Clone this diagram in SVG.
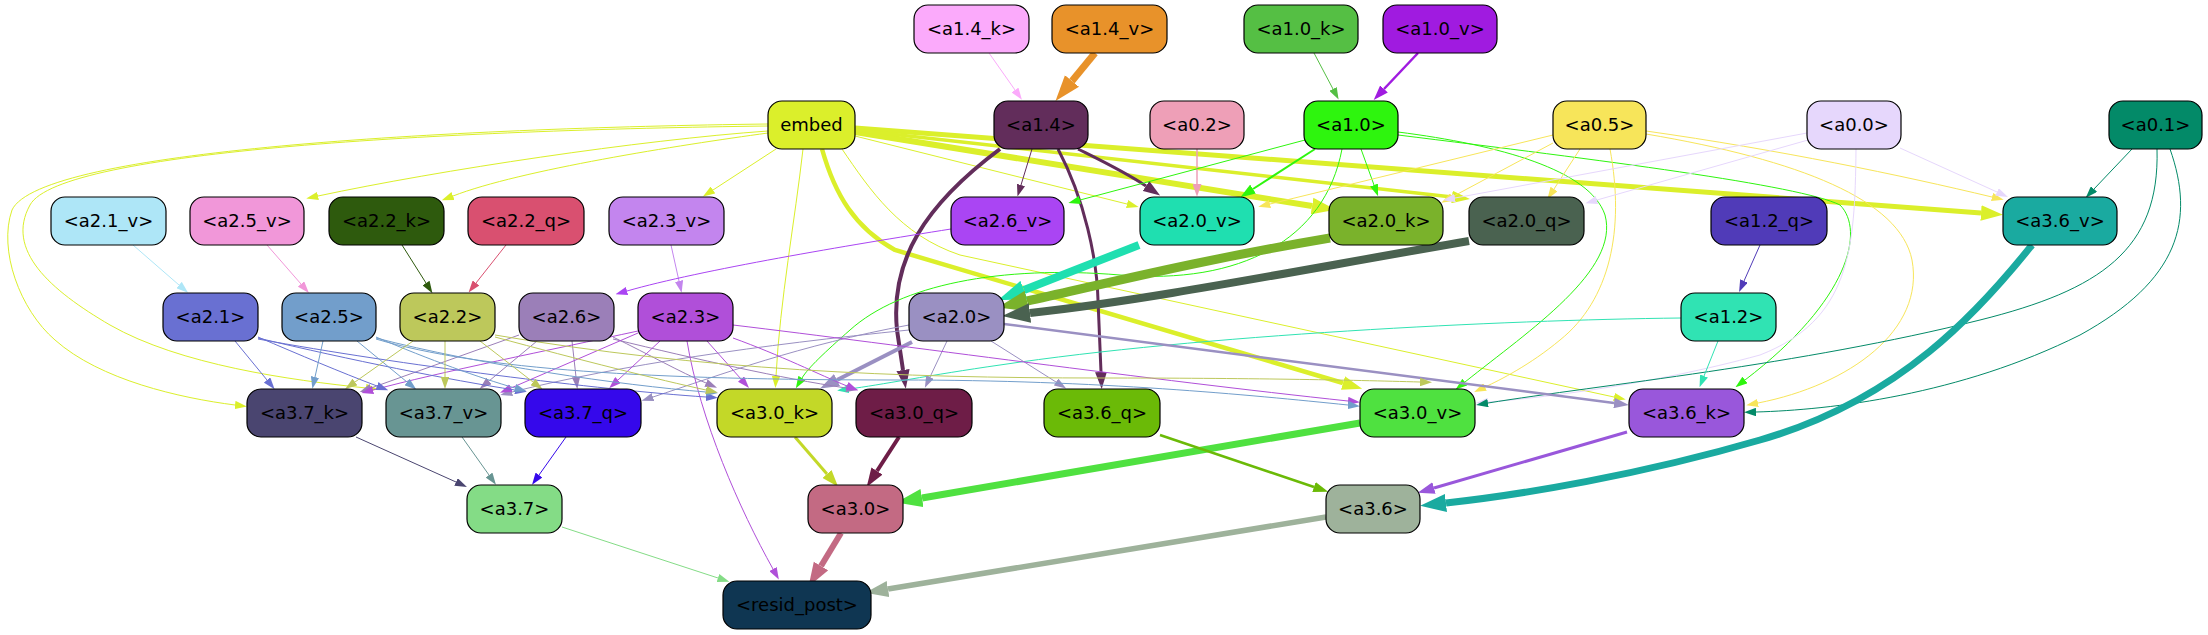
<svg xmlns="http://www.w3.org/2000/svg" width="2208" height="635" viewBox="0 0 2208 635">
<style>
.n rect{stroke:#000;stroke-width:1.2}
.n text{font-family:"DejaVu Sans",sans-serif;font-size:18px;text-anchor:middle;fill:#000}
#edges path{fill:none}
</style>
<defs>
<marker id="m_pk" viewBox="0 0 10 7" refX="0" refY="3.5" markerUnits="userSpaceOnUse" markerWidth="12" markerHeight="8.4" orient="auto"><path d="M0,0L10,3.5L0,7z" fill="#fbaafb"/></marker>
<marker id="m_or" viewBox="0 0 10 7" refX="0" refY="3.5" markerUnits="userSpaceOnUse" markerWidth="26" markerHeight="19" orient="auto"><path d="M0,0L10,3.5L0,7z" fill="#e8922a"/></marker>
<marker id="m_g1" viewBox="0 0 10 7" refX="0" refY="3.5" markerUnits="userSpaceOnUse" markerWidth="12" markerHeight="8.4" orient="auto"><path d="M0,0L10,3.5L0,7z" fill="#55bf44"/></marker>
<marker id="m_pu" viewBox="0 0 10 7" refX="0" refY="3.5" markerUnits="userSpaceOnUse" markerWidth="15" markerHeight="10.5" orient="auto"><path d="M0,0L10,3.5L0,7z" fill="#a01be0"/></marker>
<marker id="m_em" viewBox="0 0 10 7" refX="0" refY="3.5" markerUnits="userSpaceOnUse" markerWidth="12" markerHeight="8.4" orient="auto"><path d="M0,0L10,3.5L0,7z" fill="#dbef2b"/></marker>
<marker id="m_em18" viewBox="0 0 10 7" refX="0" refY="3.5" markerUnits="userSpaceOnUse" markerWidth="18" markerHeight="13" orient="auto"><path d="M0,0L10,3.5L0,7z" fill="#dbef2b"/></marker>
<marker id="m_em20" viewBox="0 0 10 7" refX="0" refY="3.5" markerUnits="userSpaceOnUse" markerWidth="20" markerHeight="14.5" orient="auto"><path d="M0,0L10,3.5L0,7z" fill="#dbef2b"/></marker>
<marker id="m_em22" viewBox="0 0 10 7" refX="0" refY="3.5" markerUnits="userSpaceOnUse" markerWidth="22" markerHeight="16" orient="auto"><path d="M0,0L10,3.5L0,7z" fill="#dbef2b"/></marker>
<marker id="m_em24" viewBox="0 0 10 7" refX="0" refY="3.5" markerUnits="userSpaceOnUse" markerWidth="24" markerHeight="17.5" orient="auto"><path d="M0,0L10,3.5L0,7z" fill="#dbef2b"/></marker>
<marker id="m_14" viewBox="0 0 10 7" refX="0" refY="3.5" markerUnits="userSpaceOnUse" markerWidth="12" markerHeight="8.4" orient="auto"><path d="M0,0L10,3.5L0,7z" fill="#622d5b"/></marker>
<marker id="m_14b" viewBox="0 0 10 7" refX="0" refY="3.5" markerUnits="userSpaceOnUse" markerWidth="17" markerHeight="12.5" orient="auto"><path d="M0,0L10,3.5L0,7z" fill="#622d5b"/></marker>
<marker id="m_14c" viewBox="0 0 10 7" refX="0" refY="3.5" markerUnits="userSpaceOnUse" markerWidth="19" markerHeight="14" orient="auto"><path d="M0,0L10,3.5L0,7z" fill="#622d5b"/></marker>
<marker id="m_02" viewBox="0 0 10 7" refX="0" refY="3.5" markerUnits="userSpaceOnUse" markerWidth="13" markerHeight="9" orient="auto"><path d="M0,0L10,3.5L0,7z" fill="#ee9fb7"/></marker>
<marker id="m_10" viewBox="0 0 10 7" refX="0" refY="3.5" markerUnits="userSpaceOnUse" markerWidth="12" markerHeight="8.4" orient="auto"><path d="M0,0L10,3.5L0,7z" fill="#2ef50e"/></marker>
<marker id="m_10b" viewBox="0 0 10 7" refX="0" refY="3.5" markerUnits="userSpaceOnUse" markerWidth="15" markerHeight="10.5" orient="auto"><path d="M0,0L10,3.5L0,7z" fill="#2ef50e"/></marker>
<marker id="m_05" viewBox="0 0 10 7" refX="0" refY="3.5" markerUnits="userSpaceOnUse" markerWidth="12" markerHeight="8.4" orient="auto"><path d="M0,0L10,3.5L0,7z" fill="#f7e55a"/></marker>
<marker id="m_00" viewBox="0 0 10 7" refX="0" refY="3.5" markerUnits="userSpaceOnUse" markerWidth="12" markerHeight="8.4" orient="auto"><path d="M0,0L10,3.5L0,7z" fill="#e6d7fc"/></marker>
<marker id="m_01" viewBox="0 0 10 7" refX="0" refY="3.5" markerUnits="userSpaceOnUse" markerWidth="12" markerHeight="8.4" orient="auto"><path d="M0,0L10,3.5L0,7z" fill="#038a68"/></marker>
<marker id="m_12q" viewBox="0 0 10 7" refX="0" refY="3.5" markerUnits="userSpaceOnUse" markerWidth="12" markerHeight="8.4" orient="auto"><path d="M0,0L10,3.5L0,7z" fill="#503bb8"/></marker>
<marker id="m_12" viewBox="0 0 10 7" refX="0" refY="3.5" markerUnits="userSpaceOnUse" markerWidth="12" markerHeight="8.4" orient="auto"><path d="M0,0L10,3.5L0,7z" fill="#30e3b3"/></marker>
<marker id="m_20" viewBox="0 0 10 7" refX="0" refY="3.5" markerUnits="userSpaceOnUse" markerWidth="12" markerHeight="8.4" orient="auto"><path d="M0,0L10,3.5L0,7z" fill="#9a90c2"/></marker>
<marker id="m_20b" viewBox="0 0 10 7" refX="0" refY="3.5" markerUnits="userSpaceOnUse" markerWidth="15" markerHeight="10.5" orient="auto"><path d="M0,0L10,3.5L0,7z" fill="#9a90c2"/></marker>
<marker id="m_20c" viewBox="0 0 10 7" refX="0" refY="3.5" markerUnits="userSpaceOnUse" markerWidth="19" markerHeight="14" orient="auto"><path d="M0,0L10,3.5L0,7z" fill="#9a90c2"/></marker>
<marker id="m_26" viewBox="0 0 10 7" refX="0" refY="3.5" markerUnits="userSpaceOnUse" markerWidth="12" markerHeight="8.4" orient="auto"><path d="M0,0L10,3.5L0,7z" fill="#9b7fb8"/></marker>
<marker id="m_23" viewBox="0 0 10 7" refX="0" refY="3.5" markerUnits="userSpaceOnUse" markerWidth="12" markerHeight="8.4" orient="auto"><path d="M0,0L10,3.5L0,7z" fill="#b04fd9"/></marker>
<marker id="m_21" viewBox="0 0 10 7" refX="0" refY="3.5" markerUnits="userSpaceOnUse" markerWidth="12" markerHeight="8.4" orient="auto"><path d="M0,0L10,3.5L0,7z" fill="#6970d2"/></marker>
<marker id="m_25" viewBox="0 0 10 7" refX="0" refY="3.5" markerUnits="userSpaceOnUse" markerWidth="12" markerHeight="8.4" orient="auto"><path d="M0,0L10,3.5L0,7z" fill="#729ecb"/></marker>
<marker id="m_22" viewBox="0 0 10 7" refX="0" refY="3.5" markerUnits="userSpaceOnUse" markerWidth="12" markerHeight="8.4" orient="auto"><path d="M0,0L10,3.5L0,7z" fill="#bdc85b"/></marker>
<marker id="m_21v" viewBox="0 0 10 7" refX="0" refY="3.5" markerUnits="userSpaceOnUse" markerWidth="12" markerHeight="8.4" orient="auto"><path d="M0,0L10,3.5L0,7z" fill="#aee6f7"/></marker>
<marker id="m_25v" viewBox="0 0 10 7" refX="0" refY="3.5" markerUnits="userSpaceOnUse" markerWidth="12" markerHeight="8.4" orient="auto"><path d="M0,0L10,3.5L0,7z" fill="#f197d9"/></marker>
<marker id="m_22k" viewBox="0 0 10 7" refX="0" refY="3.5" markerUnits="userSpaceOnUse" markerWidth="12" markerHeight="8.4" orient="auto"><path d="M0,0L10,3.5L0,7z" fill="#2e5a0d"/></marker>
<marker id="m_22q" viewBox="0 0 10 7" refX="0" refY="3.5" markerUnits="userSpaceOnUse" markerWidth="12" markerHeight="8.4" orient="auto"><path d="M0,0L10,3.5L0,7z" fill="#d95070"/></marker>
<marker id="m_23v" viewBox="0 0 10 7" refX="0" refY="3.5" markerUnits="userSpaceOnUse" markerWidth="12" markerHeight="8.4" orient="auto"><path d="M0,0L10,3.5L0,7z" fill="#c385ee"/></marker>
<marker id="m_26v" viewBox="0 0 10 7" refX="0" refY="3.5" markerUnits="userSpaceOnUse" markerWidth="12" markerHeight="8.4" orient="auto"><path d="M0,0L10,3.5L0,7z" fill="#aa45f3"/></marker>
<marker id="m_20v" viewBox="0 0 10 7" refX="0" refY="3.5" markerUnits="userSpaceOnUse" markerWidth="28" markerHeight="20.5" orient="auto"><path d="M0,0L10,3.5L0,7z" fill="#1fdfb0"/></marker>
<marker id="m_20k" viewBox="0 0 10 7" refX="0" refY="3.5" markerUnits="userSpaceOnUse" markerWidth="30" markerHeight="22" orient="auto"><path d="M0,0L10,3.5L0,7z" fill="#7ab22b"/></marker>
<marker id="m_20q" viewBox="0 0 10 7" refX="0" refY="3.5" markerUnits="userSpaceOnUse" markerWidth="28" markerHeight="20.5" orient="auto"><path d="M0,0L10,3.5L0,7z" fill="#4a6250"/></marker>
<marker id="m_37k" viewBox="0 0 10 7" refX="0" refY="3.5" markerUnits="userSpaceOnUse" markerWidth="12" markerHeight="8.4" orient="auto"><path d="M0,0L10,3.5L0,7z" fill="#4a4570"/></marker>
<marker id="m_37v" viewBox="0 0 10 7" refX="0" refY="3.5" markerUnits="userSpaceOnUse" markerWidth="12" markerHeight="8.4" orient="auto"><path d="M0,0L10,3.5L0,7z" fill="#689593"/></marker>
<marker id="m_37q" viewBox="0 0 10 7" refX="0" refY="3.5" markerUnits="userSpaceOnUse" markerWidth="12" markerHeight="8.4" orient="auto"><path d="M0,0L10,3.5L0,7z" fill="#3508eb"/></marker>
<marker id="m_37" viewBox="0 0 10 7" refX="0" refY="3.5" markerUnits="userSpaceOnUse" markerWidth="12" markerHeight="8.4" orient="auto"><path d="M0,0L10,3.5L0,7z" fill="#84dc86"/></marker>
<marker id="m_30k" viewBox="0 0 10 7" refX="0" refY="3.5" markerUnits="userSpaceOnUse" markerWidth="17" markerHeight="12.5" orient="auto"><path d="M0,0L10,3.5L0,7z" fill="#c3d828"/></marker>
<marker id="m_30q" viewBox="0 0 10 7" refX="0" refY="3.5" markerUnits="userSpaceOnUse" markerWidth="19" markerHeight="14" orient="auto"><path d="M0,0L10,3.5L0,7z" fill="#6e1d47"/></marker>
<marker id="m_30v" viewBox="0 0 10 7" refX="0" refY="3.5" markerUnits="userSpaceOnUse" markerWidth="26" markerHeight="19" orient="auto"><path d="M0,0L10,3.5L0,7z" fill="#4fe140"/></marker>
<marker id="m_30" viewBox="0 0 10 7" refX="0" refY="3.5" markerUnits="userSpaceOnUse" markerWidth="24" markerHeight="17.5" orient="auto"><path d="M0,0L10,3.5L0,7z" fill="#c36a83"/></marker>
<marker id="m_36q" viewBox="0 0 10 7" refX="0" refY="3.5" markerUnits="userSpaceOnUse" markerWidth="15" markerHeight="10.5" orient="auto"><path d="M0,0L10,3.5L0,7z" fill="#6bba07"/></marker>
<marker id="m_36k" viewBox="0 0 10 7" refX="0" refY="3.5" markerUnits="userSpaceOnUse" markerWidth="17" markerHeight="12.5" orient="auto"><path d="M0,0L10,3.5L0,7z" fill="#9957db"/></marker>
<marker id="m_36v" viewBox="0 0 10 7" refX="0" refY="3.5" markerUnits="userSpaceOnUse" markerWidth="26" markerHeight="19" orient="auto"><path d="M0,0L10,3.5L0,7z" fill="#1aaaa0"/></marker>
<marker id="m_36" viewBox="0 0 10 7" refX="0" refY="3.5" markerUnits="userSpaceOnUse" markerWidth="23" markerHeight="17" orient="auto"><path d="M0,0L10,3.5L0,7z" fill="#9eb29b"/></marker>
</defs>
<rect width="2208" height="635" fill="#fff"/>
<g id="edges">
<path d="M989,53 L1015,90" stroke="#fbaafb" stroke-width="1" marker-end="url(#m_pk)"/>
<path d="M1095,53 L1072,81" stroke="#e8922a" stroke-width="7" marker-end="url(#m_or)"/>
<path d="M1314,53 L1333,89" stroke="#55bf44" stroke-width="1" marker-end="url(#m_g1)"/>
<path d="M1418,53 L1384,89" stroke="#a01be0" stroke-width="2.5" marker-end="url(#m_pu)"/>
<path d="M768,131 C640,140 440,170 318,196" stroke="#dbef2b" stroke-width="1" marker-end="url(#m_em)"/>
<path d="M768,133 C680,145 520,170 453,196" stroke="#dbef2b" stroke-width="1" marker-end="url(#m_em)"/>
<path d="M776,149 L713,190" stroke="#dbef2b" stroke-width="1" marker-end="url(#m_em)"/>
<path d="M768,124 C450,128 40,150 12,210 C-2,250 20,310 55,340 C100,380 180,398 235,405" stroke="#dbef2b" stroke-width="1" marker-end="url(#m_em)"/>
<path d="M768,126 C450,130 60,150 30,205 C5,250 50,290 110,325 C180,365 290,380 366,388" stroke="#dbef2b" stroke-width="1" marker-end="url(#m_em)"/>
<path d="M803,149 C795,220 780,300 776,376" stroke="#dbef2b" stroke-width="1" marker-end="url(#m_em)"/>
<path d="M822,149 C835,195 855,228 895,250 L1343,383" stroke="#dbef2b" stroke-width="4.5" marker-end="url(#m_em20)"/>
<path d="M855,136 L1127,204" stroke="#dbef2b" stroke-width="1" marker-end="url(#m_em)"/>
<path d="M855,132 L1312,206" stroke="#dbef2b" stroke-width="6" marker-end="url(#m_em24)"/>
<path d="M855,128 L1981,213" stroke="#dbef2b" stroke-width="5" marker-end="url(#m_em22)"/>
<path d="M855,130 L1452,197" stroke="#dbef2b" stroke-width="3.5" marker-end="url(#m_em18)"/>
<path d="M842,149 C870,190 900,235 960,255 L1614,397" stroke="#dbef2b" stroke-width="1" marker-end="url(#m_em)"/>
<path d="M1032,149 L1021,185" stroke="#622d5b" stroke-width="1" marker-end="url(#m_14)"/>
<path d="M1078,149 C1100,160 1125,172 1146,186" stroke="#622d5b" stroke-width="3" marker-end="url(#m_14b)"/>
<path d="M1000,149 C925,205 890,260 897,330 L903,370" stroke="#622d5b" stroke-width="4" marker-end="url(#m_14c)"/>
<path d="M1058,149 C1085,200 1097,260 1098,300 L1101,372" stroke="#622d5b" stroke-width="3" marker-end="url(#m_14b)"/>
<path d="M1197,149 L1197,184" stroke="#ee9fb7" stroke-width="1.5" marker-end="url(#m_02)"/>
<path d="M1305,140 L1080,200" stroke="#2ef50e" stroke-width="1" marker-end="url(#m_10)"/>
<path d="M1315,149 L1253,189" stroke="#2ef50e" stroke-width="2" marker-end="url(#m_10b)"/>
<path d="M1361,149 L1374,185" stroke="#2ef50e" stroke-width="1" marker-end="url(#m_10)"/>
<path d="M1342,149 C1325,240 1240,285 1120,275 C1000,265 900,285 850,330 C825,352 808,368 802,378" stroke="#2ef50e" stroke-width="1" marker-end="url(#m_10)"/>
<path d="M1398,132 C1500,145 1590,170 1605,215 C1620,270 1530,330 1465,382" stroke="#2ef50e" stroke-width="1" marker-end="url(#m_10)"/>
<path d="M1398,135 C1600,160 1800,185 1840,205 C1865,230 1850,300 1745,380" stroke="#2ef50e" stroke-width="1" marker-end="url(#m_10)"/>
<path d="M1553,143 L1452,197" stroke="#f7e55a" stroke-width="1" marker-end="url(#m_05)"/>
<path d="M1580,149 L1554,189" stroke="#f7e55a" stroke-width="1" marker-end="url(#m_05)"/>
<path d="M1553,135 L1270,204" stroke="#f7e55a" stroke-width="1" marker-end="url(#m_05)"/>
<path d="M1646,131 C1780,150 1900,175 1992,197" stroke="#f7e55a" stroke-width="1" marker-end="url(#m_05)"/>
<path d="M1646,134 C1800,160 1900,200 1912,260 C1925,330 1850,385 1758,403" stroke="#f7e55a" stroke-width="1" marker-end="url(#m_05)"/>
<path d="M1610,149 C1625,230 1610,300 1560,340 C1530,365 1500,380 1485,387" stroke="#f7e55a" stroke-width="1" marker-end="url(#m_05)"/>
<path d="M1807,133 L1455,198" stroke="#e6d7fc" stroke-width="1" marker-end="url(#m_00)"/>
<path d="M1808,140 L1597,200" stroke="#e6d7fc" stroke-width="1" marker-end="url(#m_00)"/>
<path d="M1900,148 L1997,192" stroke="#e6d7fc" stroke-width="1" marker-end="url(#m_00)"/>
<path d="M1856,149 C1855,250 1850,320 1760,355 C1650,385 1540,398 1488,402" stroke="#e6d7fc" stroke-width="1" marker-end="url(#m_00)"/>
<path d="M2132,149 L2094,189" stroke="#038a68" stroke-width="1" marker-end="url(#m_01)"/>
<path d="M2157,149 C2160,250 2100,290 1980,320 C1800,365 1600,385 1488,403" stroke="#038a68" stroke-width="1" marker-end="url(#m_01)"/>
<path d="M2170,149 C2195,220 2180,280 2080,335 C1960,395 1830,410 1756,412" stroke="#038a68" stroke-width="1" marker-end="url(#m_01)"/>
<path d="M1760,245 L1744,281" stroke="#503bb8" stroke-width="1" marker-end="url(#m_12q)"/>
<path d="M1718,341 L1704,376" stroke="#30e3b3" stroke-width="1" marker-end="url(#m_12)"/>
<path d="M1681,318 C1500,320 1200,335 1000,365 C930,375 880,385 849,389" stroke="#30e3b3" stroke-width="1" marker-end="url(#m_12)"/>
<path d="M133,245 L179,285" stroke="#aee6f7" stroke-width="1" marker-end="url(#m_21v)"/>
<path d="M267,245 L301,284" stroke="#f197d9" stroke-width="1" marker-end="url(#m_25v)"/>
<path d="M402,245 L426,283" stroke="#2e5a0d" stroke-width="1" marker-end="url(#m_22k)"/>
<path d="M506,245 L476,283" stroke="#d95070" stroke-width="1" marker-end="url(#m_22q)"/>
<path d="M671,245 L679,281" stroke="#c385ee" stroke-width="1" marker-end="url(#m_23v)"/>
<path d="M951,229 C850,245 700,270 627,291" stroke="#aa45f3" stroke-width="1" marker-end="url(#m_26v)"/>
<path d="M1139,245 L1024,290" stroke="#1fdfb0" stroke-width="8" marker-end="url(#m_20v)"/>
<path d="M1330,238 C1200,260 1100,285 1027,301" stroke="#7ab22b" stroke-width="9" marker-end="url(#m_20k)"/>
<path d="M1469,241 C1300,270 1150,300 1030,313" stroke="#4a6250" stroke-width="8" marker-end="url(#m_20q)"/>
<path d="M1004,324 L1614,403" stroke="#9a90c2" stroke-width="2.5" marker-end="url(#m_20b)"/>
<path d="M912,342 L837,380" stroke="#9a90c2" stroke-width="4" marker-end="url(#m_20c)"/>
<path d="M947,341 L930,377" stroke="#9a90c2" stroke-width="1" marker-end="url(#m_20)"/>
<path d="M991,341 L1056,382" stroke="#9a90c2" stroke-width="1" marker-end="url(#m_20)"/>
<path d="M909,325 C800,345 720,375 653,397" stroke="#9a90c2" stroke-width="1" marker-end="url(#m_20)"/>
<path d="M909,330 C760,345 620,365 512,392" stroke="#9a90c2" stroke-width="1" marker-end="url(#m_20)"/>
<path d="M519,335 L371,388" stroke="#9b7fb8" stroke-width="1" marker-end="url(#m_26)"/>
<path d="M537,341 L489,381" stroke="#9b7fb8" stroke-width="1" marker-end="url(#m_26)"/>
<path d="M572,341 L576,377" stroke="#9b7fb8" stroke-width="1" marker-end="url(#m_26)"/>
<path d="M613,337 C650,355 680,372 706,383" stroke="#9b7fb8" stroke-width="1" marker-end="url(#m_26)"/>
<path d="M613,339 C700,360 780,378 846,388" stroke="#9b7fb8" stroke-width="1" marker-end="url(#m_26)"/>
<path d="M638,331 C550,350 440,372 373,390" stroke="#b04fd9" stroke-width="1" marker-end="url(#m_23)"/>
<path d="M638,333 L511,388" stroke="#b04fd9" stroke-width="1" marker-end="url(#m_23)"/>
<path d="M660,341 L618,380" stroke="#b04fd9" stroke-width="1" marker-end="url(#m_23)"/>
<path d="M707,341 L741,379" stroke="#b04fd9" stroke-width="1" marker-end="url(#m_23)"/>
<path d="M733,338 C780,355 820,375 847,386" stroke="#b04fd9" stroke-width="1" marker-end="url(#m_23)"/>
<path d="M733,325 C900,345 1150,380 1348,401" stroke="#b04fd9" stroke-width="1" marker-end="url(#m_23)"/>
<path d="M687,341 C700,420 740,510 773,569" stroke="#b04fd9" stroke-width="1" marker-end="url(#m_23)"/>
<path d="M235,341 L267,380" stroke="#6970d2" stroke-width="1" marker-end="url(#m_21)"/>
<path d="M258,337 C300,355 340,372 377,386" stroke="#6970d2" stroke-width="1" marker-end="url(#m_21)"/>
<path d="M258,338 C350,360 450,380 515,390" stroke="#6970d2" stroke-width="1" marker-end="url(#m_21)"/>
<path d="M258,339 C400,365 600,390 706,397" stroke="#6970d2" stroke-width="1" marker-end="url(#m_21)"/>
<path d="M323,341 L315,377" stroke="#729ecb" stroke-width="1" marker-end="url(#m_25)"/>
<path d="M357,341 L407,382" stroke="#729ecb" stroke-width="1" marker-end="url(#m_25)"/>
<path d="M376,337 C430,360 480,378 515,388" stroke="#729ecb" stroke-width="1" marker-end="url(#m_25)"/>
<path d="M376,338 C480,365 620,385 706,392" stroke="#729ecb" stroke-width="1" marker-end="url(#m_25)"/>
<path d="M376,339 C480,370 650,380 900,380 C1100,380 1250,395 1348,405" stroke="#729ecb" stroke-width="1" marker-end="url(#m_25)"/>
<path d="M413,341 L355,382" stroke="#bdc85b" stroke-width="1" marker-end="url(#m_22)"/>
<path d="M445,341 L445,377" stroke="#bdc85b" stroke-width="1" marker-end="url(#m_22)"/>
<path d="M480,341 L533,382" stroke="#bdc85b" stroke-width="1" marker-end="url(#m_22)"/>
<path d="M495,337 C580,360 660,380 706,390" stroke="#bdc85b" stroke-width="1" marker-end="url(#m_22)"/>
<path d="M495,335 C700,370 900,378 1100,378 C1250,378 1350,380 1420,382" stroke="#bdc85b" stroke-width="1" marker-end="url(#m_22)"/>
<path d="M356,437 L456,482" stroke="#4a4570" stroke-width="1" marker-end="url(#m_37k)"/>
<path d="M462,437 L489,475" stroke="#689593" stroke-width="1" marker-end="url(#m_37v)"/>
<path d="M566,437 L539,475" stroke="#3508eb" stroke-width="1" marker-end="url(#m_37q)"/>
<path d="M562,527 L718,578" stroke="#84dc86" stroke-width="1" marker-end="url(#m_37)"/>
<path d="M795,437 L827,474" stroke="#c3d828" stroke-width="3" marker-end="url(#m_30k)"/>
<path d="M899,437 L877,471" stroke="#6e1d47" stroke-width="4" marker-end="url(#m_30q)"/>
<path d="M1360,423 L922,498" stroke="#4fe140" stroke-width="7" marker-end="url(#m_30v)"/>
<path d="M841,533 L821,566" stroke="#c36a83" stroke-width="6" marker-end="url(#m_30)"/>
<path d="M1160,435 L1314,487" stroke="#6bba07" stroke-width="2.5" marker-end="url(#m_36q)"/>
<path d="M1627,432 L1434,488" stroke="#9957db" stroke-width="3" marker-end="url(#m_36k)"/>
<path d="M2032,245 C1980,310 1900,400 1760,440 C1640,475 1520,495 1446,503" stroke="#1aaaa0" stroke-width="7" marker-end="url(#m_36v)"/>
<path d="M1326,517 L888,589" stroke="#9eb29b" stroke-width="5.5" marker-end="url(#m_36)"/>
</g>
<g id="n-a1_4k" class="n"><rect x="914" y="5" width="115" height="48" rx="14" fill="#fbaafb"/><text x="971.5" y="35">&lt;a1.4_k&gt;</text></g>
<g id="n-a1_4v" class="n"><rect x="1052" y="5" width="115" height="48" rx="14" fill="#e8922a"/><text x="1109.5" y="35">&lt;a1.4_v&gt;</text></g>
<g id="n-a1_0k" class="n"><rect x="1244" y="5" width="114" height="48" rx="14" fill="#55bf44"/><text x="1301" y="35">&lt;a1.0_k&gt;</text></g>
<g id="n-a1_0v" class="n"><rect x="1383" y="5" width="114" height="48" rx="14" fill="#a01be0"/><text x="1440" y="35">&lt;a1.0_v&gt;</text></g>
<g id="n-embed" class="n"><rect x="768" y="101" width="87" height="48" rx="14" fill="#dbef2b"/><text x="811.5" y="131">embed</text></g>
<g id="n-a1_4" class="n"><rect x="994" y="101" width="94" height="48" rx="14" fill="#622d5b"/><text x="1041" y="131">&lt;a1.4&gt;</text></g>
<g id="n-a0_2" class="n"><rect x="1150" y="101" width="94" height="48" rx="14" fill="#ee9fb7"/><text x="1197" y="131">&lt;a0.2&gt;</text></g>
<g id="n-a1_0" class="n"><rect x="1304" y="101" width="94" height="48" rx="14" fill="#2ef50e"/><text x="1351" y="131">&lt;a1.0&gt;</text></g>
<g id="n-a0_5" class="n"><rect x="1553" y="101" width="93" height="48" rx="14" fill="#f7e55a"/><text x="1599.5" y="131">&lt;a0.5&gt;</text></g>
<g id="n-a0_0" class="n"><rect x="1807" y="101" width="94" height="48" rx="14" fill="#e6d7fc"/><text x="1854" y="131">&lt;a0.0&gt;</text></g>
<g id="n-a0_1" class="n"><rect x="2109" y="101" width="93" height="48" rx="14" fill="#038a68"/><text x="2155.5" y="131">&lt;a0.1&gt;</text></g>
<g id="n-a2_1v" class="n"><rect x="51" y="197" width="115" height="48" rx="14" fill="#aee6f7"/><text x="108.5" y="227">&lt;a2.1_v&gt;</text></g>
<g id="n-a2_5v" class="n"><rect x="190" y="197" width="114" height="48" rx="14" fill="#f197d9"/><text x="247" y="227">&lt;a2.5_v&gt;</text></g>
<g id="n-a2_2k" class="n"><rect x="329" y="197" width="115" height="48" rx="14" fill="#2e5a0d"/><text x="386.5" y="227">&lt;a2.2_k&gt;</text></g>
<g id="n-a2_2q" class="n"><rect x="468" y="197" width="116" height="48" rx="14" fill="#d95070"/><text x="526" y="227">&lt;a2.2_q&gt;</text></g>
<g id="n-a2_3v" class="n"><rect x="609" y="197" width="115" height="48" rx="14" fill="#c385ee"/><text x="666.5" y="227">&lt;a2.3_v&gt;</text></g>
<g id="n-a2_6v" class="n"><rect x="951" y="197" width="113" height="48" rx="14" fill="#aa45f3"/><text x="1007.5" y="227">&lt;a2.6_v&gt;</text></g>
<g id="n-a2_0v" class="n"><rect x="1140" y="197" width="114" height="48" rx="14" fill="#1fdfb0"/><text x="1197" y="227">&lt;a2.0_v&gt;</text></g>
<g id="n-a2_0k" class="n"><rect x="1329" y="197" width="114" height="48" rx="14" fill="#7ab22b"/><text x="1386" y="227">&lt;a2.0_k&gt;</text></g>
<g id="n-a2_0q" class="n"><rect x="1469" y="197" width="115" height="48" rx="14" fill="#4a6250"/><text x="1526.5" y="227">&lt;a2.0_q&gt;</text></g>
<g id="n-a1_2q" class="n"><rect x="1711" y="197" width="116" height="48" rx="14" fill="#503bb8"/><text x="1769" y="227">&lt;a1.2_q&gt;</text></g>
<g id="n-a3_6v" class="n"><rect x="2003" y="197" width="114" height="48" rx="14" fill="#1aaaa0"/><text x="2060" y="227">&lt;a3.6_v&gt;</text></g>
<g id="n-a2_1" class="n"><rect x="163" y="293" width="95" height="48" rx="14" fill="#6970d2"/><text x="210.5" y="323">&lt;a2.1&gt;</text></g>
<g id="n-a2_5" class="n"><rect x="282" y="293" width="94" height="48" rx="14" fill="#729ecb"/><text x="329" y="323">&lt;a2.5&gt;</text></g>
<g id="n-a2_2" class="n"><rect x="400" y="293" width="95" height="48" rx="14" fill="#bdc85b"/><text x="447.5" y="323">&lt;a2.2&gt;</text></g>
<g id="n-a2_6" class="n"><rect x="519" y="293" width="95" height="48" rx="14" fill="#9b7fb8"/><text x="566.5" y="323">&lt;a2.6&gt;</text></g>
<g id="n-a2_3" class="n"><rect x="638" y="293" width="95" height="48" rx="14" fill="#b04fd9"/><text x="685.5" y="323">&lt;a2.3&gt;</text></g>
<g id="n-a2_0" class="n"><rect x="909" y="293" width="95" height="48" rx="14" fill="#9a90c2"/><text x="956.5" y="323">&lt;a2.0&gt;</text></g>
<g id="n-a1_2" class="n"><rect x="1681" y="293" width="95" height="48" rx="14" fill="#30e3b3"/><text x="1728.5" y="323">&lt;a1.2&gt;</text></g>
<g id="n-a3_7k" class="n"><rect x="247" y="389" width="115" height="48" rx="14" fill="#4a4570"/><text x="304.5" y="419">&lt;a3.7_k&gt;</text></g>
<g id="n-a3_7v" class="n"><rect x="386" y="389" width="115" height="48" rx="14" fill="#689593"/><text x="443.5" y="419">&lt;a3.7_v&gt;</text></g>
<g id="n-a3_7q" class="n"><rect x="525" y="389" width="116" height="48" rx="14" fill="#3508eb"/><text x="583" y="419">&lt;a3.7_q&gt;</text></g>
<g id="n-a3_0k" class="n"><rect x="717" y="389" width="115" height="48" rx="14" fill="#c3d828"/><text x="774.5" y="419">&lt;a3.0_k&gt;</text></g>
<g id="n-a3_0q" class="n"><rect x="856" y="389" width="116" height="48" rx="14" fill="#6e1d47"/><text x="914" y="419">&lt;a3.0_q&gt;</text></g>
<g id="n-a3_6q" class="n"><rect x="1044" y="389" width="116" height="48" rx="14" fill="#6bba07"/><text x="1102" y="419">&lt;a3.6_q&gt;</text></g>
<g id="n-a3_0v" class="n"><rect x="1360" y="389" width="115" height="48" rx="14" fill="#4fe140"/><text x="1417.5" y="419">&lt;a3.0_v&gt;</text></g>
<g id="n-a3_6k" class="n"><rect x="1629" y="389" width="115" height="48" rx="14" fill="#9957db"/><text x="1686.5" y="419">&lt;a3.6_k&gt;</text></g>
<g id="n-a3_7" class="n"><rect x="467" y="485" width="95" height="48" rx="14" fill="#84dc86"/><text x="514.5" y="515">&lt;a3.7&gt;</text></g>
<g id="n-a3_0" class="n"><rect x="808" y="485" width="95" height="48" rx="14" fill="#c36a83"/><text x="855.5" y="515">&lt;a3.0&gt;</text></g>
<g id="n-a3_6" class="n"><rect x="1326" y="485" width="94" height="48" rx="14" fill="#9eb29b"/><text x="1373" y="515">&lt;a3.6&gt;</text></g>
<g id="n-resid_post" class="n"><rect x="723" y="581" width="148" height="48" rx="14" fill="#0f3652"/><text x="797" y="611">&lt;resid_post&gt;</text></g>
</svg>
